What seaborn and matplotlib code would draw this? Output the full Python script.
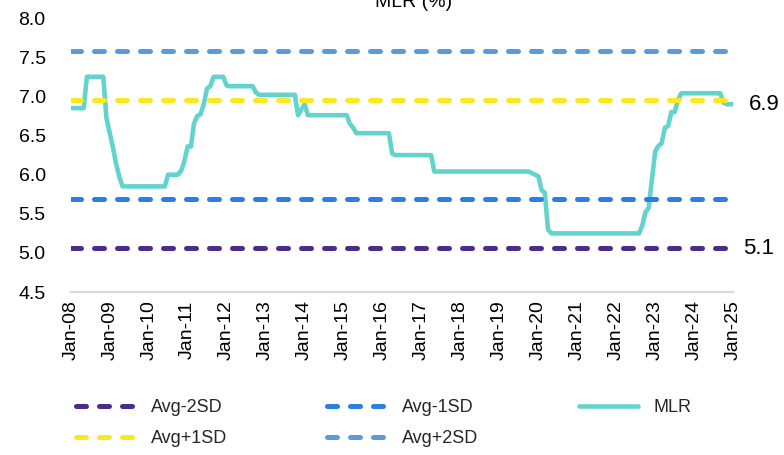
import matplotlib
matplotlib.use("Agg")
import matplotlib.pyplot as plt
import matplotlib.dates as mdates
import numpy as np
import pandas as pd
import seaborn as sns

# Monthly MLR (%), Jan-2008 .. Jan-2025, one row per calendar year
mlr_2008 = [6.85, 6.85, 6.85, 6.85, 6.85, 7.25, 7.25, 7.25, 7.25, 7.25, 7.25, 6.72]
mlr_2009 = [6.53, 6.34, 6.14, 5.97, 5.85, 5.85, 5.85, 5.85, 5.85, 5.85, 5.85, 5.85]
mlr_2010 = [5.85, 5.85, 5.85, 5.85, 5.85, 5.85, 6.00, 6.00, 6.00, 6.00, 6.05, 6.17]
mlr_2011 = [6.36, 6.36, 6.65, 6.75, 6.77, 6.90, 7.10, 7.13, 7.25, 7.25, 7.25, 7.25]
mlr_2012 = [7.14, 7.13, 7.13, 7.13, 7.13, 7.13, 7.13, 7.13, 7.13, 7.05, 7.02, 7.02]
mlr_2013 = [7.02, 7.02, 7.02, 7.02, 7.02, 7.02, 7.02, 7.02, 7.02, 7.02, 6.76, 6.83]
mlr_2014 = [6.90, 6.76, 6.76, 6.76, 6.76, 6.76, 6.76, 6.76, 6.76, 6.76, 6.76, 6.76]
mlr_2015 = [6.76, 6.76, 6.65, 6.60, 6.53, 6.53, 6.53, 6.53, 6.53, 6.53, 6.53, 6.53]
mlr_2016 = [6.53, 6.53, 6.53, 6.27, 6.25, 6.25, 6.25, 6.25, 6.25, 6.25, 6.25, 6.25]
mlr_2017 = [6.25, 6.25, 6.25, 6.25, 6.04, 6.04, 6.04, 6.04, 6.04, 6.04, 6.04, 6.04]
mlr_2018 = [6.04, 6.04, 6.04, 6.04, 6.04, 6.04, 6.04, 6.04, 6.04, 6.04, 6.04, 6.04]
mlr_2019 = [6.04, 6.04, 6.04, 6.04, 6.04, 6.04, 6.04, 6.04, 6.04, 6.04, 6.02, 6.00]
mlr_2020 = [5.98, 5.80, 5.77, 5.30, 5.25, 5.25, 5.25, 5.25, 5.25, 5.25, 5.25, 5.25]
mlr_2021 = [5.25, 5.25, 5.25, 5.25, 5.25, 5.25, 5.25, 5.25, 5.25, 5.25, 5.25, 5.25]
mlr_2022 = [5.25, 5.25, 5.25, 5.25, 5.25, 5.25, 5.25, 5.25, 5.35, 5.52, 5.58, 5.95]
mlr_2023 = [6.30, 6.37, 6.40, 6.60, 6.62, 6.80, 6.80, 6.95, 7.04, 7.04, 7.04, 7.04]
mlr_2024 = [7.04, 7.04, 7.04, 7.04, 7.04, 7.04, 7.04, 7.04, 7.04, 6.92, 6.90, 6.90]
mlr_2025 = [6.90]

mlr_values = (mlr_2008 + mlr_2009 + mlr_2010 + mlr_2011 + mlr_2012 + mlr_2013
              + mlr_2014 + mlr_2015 + mlr_2016 + mlr_2017 + mlr_2018 + mlr_2019
              + mlr_2020 + mlr_2021 + mlr_2022 + mlr_2023 + mlr_2024 + mlr_2025)

start_month = "2008-01-01"
end_month = "2025-01-01"

# Long-run band levels (%)
band_labels = ["Avg-2SD", "Avg-1SD", "Avg+1SD", "Avg+2SD"]
band_levels = [5.06, 5.69, 6.95, 7.58]
band_colors = ["#4B2C8A", "#2C7FE1", "#FBE920", "#5B9BD8"]
mlr_color = "#62D3CD"

months = pd.date_range(start_month, periods=len(mlr_values), freq="MS")
df_mlr = pd.DataFrame({"month": months, "MLR": mlr_values})

sns.set_theme(style="white")
plt.rcParams["font.family"] = ["Liberation Sans", "DejaVu Sans"]

fig = plt.figure(figsize=(7.84, 4.55), dpi=100)
ax = fig.add_axes([0.0902, 0.358, 0.8451, 0.6022])

sns.lineplot(data=df_mlr, x="month", y="MLR", ax=ax, color=mlr_color,
             linewidth=3.3, label="MLR", zorder=2)

for lab, lvl, col in zip(band_labels, band_levels, band_colors):
    band_df = pd.DataFrame({"month": pd.to_datetime([start_month, end_month]),
                            "level": [lvl, lvl]})
    sns.lineplot(data=band_df, x="month", y="level", ax=ax, color=col,
                 linewidth=3.6, label=lab, zorder=3, dashes=False)
    line = ax.get_lines()[-1]
    line.set_dashes((2.0, 2.6))
    line.set_dash_capstyle("round")

ax.set_xlim(pd.Timestamp(start_month), pd.Timestamp(end_month))
ax.set_ylim(4.5, 8.0)
ax.set_yticks(np.arange(4.5, 8.01, 0.5))
ax.yaxis.set_major_formatter(matplotlib.ticker.FormatStrFormatter("%.1f"))
ax.xaxis.set_major_locator(mdates.YearLocator())
ax.xaxis.set_major_formatter(mdates.DateFormatter("%b-%y"))
ax.set_xlabel("")
ax.set_ylabel("")

for side in ["top", "right", "left"]:
    ax.spines[side].set_visible(False)
ax.spines["bottom"].set_color("#D9D9D9")
ax.spines["bottom"].set_linewidth(1.5)
ax.tick_params(axis="x", length=0, pad=6, labelsize=14, labelrotation=90,
               labelcolor="#000000")
ax.tick_params(axis="y", length=0, pad=18, labelsize=14, labelcolor="#000000")
ax.grid(False)

# End-of-series value labels
last_month = df_mlr["month"].iloc[-1]
ax.annotate(f"{mlr_values[-1]:.1f}", xy=(last_month, mlr_values[-1]),
            xytext=(11, 0), textcoords="offset points", va="center",
            ha="left", fontsize=16, color="#000000", annotation_clip=False)
ax.annotate(f"{band_levels[0]:.1f}", xy=(pd.Timestamp(end_month), band_levels[0]),
            xytext=(7, 0), textcoords="offset points", va="center",
            ha="left", fontsize=16, color="#000000", annotation_clip=False)

fig.text(0.527, 0.985, "MLR (%)", ha="center", va="baseline", fontsize=14,
         color="#000000")

# Legend: two rows, ordered to read row-wise
h, l = ax.get_legend_handles_labels()
lookup = dict(zip(l, h))
order = ["Avg-2SD", "Avg+1SD", "Avg-1SD", "Avg+2SD", "MLR"]
ax.legend([lookup[k] for k in order], order, ncol=3, loc="upper left",
          bbox_to_anchor=(0.097, 0.122), bbox_transform=fig.transFigure,
          frameon=False, fontsize=13, handlelength=3.3, handletextpad=0.85,
          columnspacing=5.55, labelspacing=0.75, borderaxespad=0, borderpad=0)

fig.savefig("out.png", dpi=100)
